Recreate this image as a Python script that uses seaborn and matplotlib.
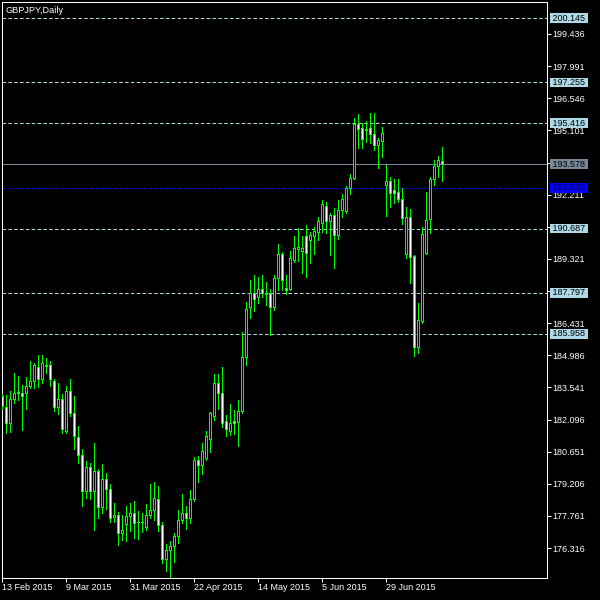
import numpy as np
import pandas as pd
import seaborn as sns
import matplotlib.pyplot as plt

# Daily GBPJPY candles (13 Feb 2015 onwards, trading days)
opens = [183.15, 182.66, 181.96, 183.04, 183.33, 183.31, 183.31, 183.61, 183.82, 184.48,
         183.94, 184.51, 184.57, 183.85, 182.64, 183.04, 181.57, 183.36, 182.41, 181.31,
         180.52, 178.87, 179.94, 178.88, 179.76, 178.16, 179.44, 178.99, 177.71, 177.82,
         177.01, 177.41, 177.76, 177.91, 177.49, 177.47, 177.26, 177.82, 178.05, 178.54,
         177.37, 175.84, 176.25, 176.43, 176.88, 177.60, 177.91, 177.69, 178.54, 180.27,
         180.07, 180.37, 181.24, 182.26, 183.72, 183.27, 182.03, 181.58, 182.02, 181.99,
         182.49, 184.89, 187.14, 187.77, 187.59, 187.95, 187.75, 187.77, 187.14, 188.44,
         189.52, 188.02, 187.96, 189.27, 189.76, 189.69, 190.35, 190.17, 190.36, 190.54,
         190.94, 191.71, 191.02, 191.29, 190.41, 191.52, 191.48, 192.49, 192.98, 195.39,
         195.19, 195.16, 195.19, 194.92, 194.45, 194.64, 192.64, 192.82, 192.42, 192.31,
         192.00, 189.56, 191.19, 189.45, 185.37, 186.54, 189.60, 191.10, 192.90, 193.48,
         193.72]
highs = [183.23, 183.22, 183.37, 184.17, 184.05, 183.67, 183.99, 184.72, 184.66, 185.02,
         184.99, 184.87, 184.73, 183.90, 183.72, 183.23, 183.61, 183.91, 183.14, 181.79,
         180.75, 180.22, 180.12, 181.04, 179.89, 180.08, 179.67, 179.22, 178.36, 177.94,
         177.79, 178.20, 178.34, 178.42, 177.97, 177.89, 178.28, 179.18, 179.27, 179.09,
         177.49, 176.52, 176.63, 177.00, 178.01, 178.73, 178.20, 178.92, 180.39, 180.45,
         181.04, 181.57, 182.44, 184.13, 184.13, 184.44, 182.29, 182.79, 182.52, 182.97,
         186.04, 187.39, 188.36, 188.59, 188.51, 188.59, 188.26, 187.96, 188.59, 189.98,
         189.64, 188.59, 189.68, 190.34, 190.69, 190.35, 190.84, 190.54, 190.76, 191.21,
         191.97, 191.89, 191.37, 191.63, 191.99, 192.24, 192.60, 193.13, 195.64, 195.84,
         195.45, 195.54, 195.87, 195.87, 194.74, 195.24, 193.54, 192.99, 192.90, 192.90,
         192.49, 191.65, 191.56, 189.49, 187.32, 190.74, 192.34, 193.00, 193.77, 193.95,
         194.37]
lows = [182.58, 181.49, 181.54, 182.83, 182.97, 181.61, 182.59, 183.52, 183.52, 183.56,
        183.76, 184.17, 183.61, 182.48, 182.33, 181.47, 181.47, 182.26, 180.79, 180.13,
        178.20, 178.56, 178.51, 177.15, 177.67, 177.89, 178.09, 177.49, 177.49, 176.47,
        176.67, 176.63, 177.08, 176.79, 176.71, 177.04, 177.12, 177.69, 177.60, 177.08,
        175.64, 175.28, 174.94, 175.69, 176.54, 177.44, 177.17, 177.44, 178.43, 179.29,
        179.63, 180.27, 180.64, 182.07, 182.56, 181.76, 181.36, 181.39, 181.43, 180.90,
        182.37, 184.54, 186.67, 186.98, 187.32, 187.61, 187.24, 185.92, 187.02, 187.92,
        187.92, 187.74, 187.92, 189.19, 189.23, 188.68, 188.51, 189.12, 189.54, 190.17,
        190.53, 190.47, 189.49, 188.90, 190.21, 191.21, 191.39, 192.24, 192.91, 194.32,
        194.32, 194.58, 194.55, 194.24, 193.41, 193.92, 191.25, 191.67, 191.85, 191.88,
        190.87, 189.37, 188.22, 184.96, 185.10, 186.45, 189.54, 190.50, 192.64, 193.02,
        192.82]
closes = [182.72, 181.96, 183.04, 183.31, 183.28, 183.16, 183.61, 183.82, 184.53, 183.94,
          184.66, 184.57, 183.90, 182.64, 183.04, 181.65, 183.36, 182.37, 181.35, 180.52,
          178.88, 179.94, 178.88, 179.78, 178.16, 179.44, 178.99, 177.69, 177.82, 177.01,
          177.15, 177.76, 177.91, 177.46, 177.47, 177.49, 177.82, 178.05, 178.59, 177.37,
          175.84, 176.25, 176.43, 176.88, 177.60, 177.91, 177.69, 178.54, 180.27, 180.07,
          180.70, 181.35, 182.37, 183.76, 183.31, 181.92, 181.65, 181.96, 181.92, 182.49,
          184.89, 187.09, 187.79, 187.54, 187.95, 187.79, 187.77, 187.14, 188.44, 189.52,
          188.37, 187.92, 189.34, 189.79, 189.84, 189.80, 189.59, 190.39, 190.57, 191.02,
          191.77, 191.02, 191.29, 190.41, 191.52, 192.00, 192.49, 192.98, 195.39, 195.18,
          194.73, 195.14, 194.92, 194.45, 194.65, 194.97, 192.82, 192.28, 192.30, 192.00,
          191.14, 191.19, 189.39, 185.37, 186.57, 190.44, 191.07, 192.90, 193.50, 193.77,
          193.578]

# horizontal levels drawn on the chart
dashed_levels = [200.145, 197.255, 195.416, 190.687, 187.797, 185.958]
blue_level = 192.526
bid_level = 193.578

# price scale; the ones sitting under a level label are not shown in the reference
price_ticks = [176.316, 177.761, 179.206, 180.651, 182.096, 183.541, 184.986, 186.431,
               187.876, 189.321, 190.766, 192.211, 193.656, 195.101, 196.546, 197.991, 199.436]
hidden_ticks = [187.876, 190.766, 193.656]
date_tick_every = 16

GREEN = '#00FF00'
LEVEL_BLUE = '#ADD8E6'
ONE_PX = 0.72  # points

sns.set_theme(style='dark', rc={'axes.facecolor': 'black', 'figure.facecolor': 'black',
                                'axes.grid': False, 'lines.scale_dashes': False})
plt.rcParams['font.family'] = ['Liberation Sans', 'DejaVu Sans']

df = pd.DataFrame({'open': opens, 'high': highs, 'low': lows, 'close': closes})
df['date'] = pd.bdate_range('2015-02-13', periods=len(df))
df['i'] = np.arange(len(df))
up = df['close'] >= df['open']

fig = plt.figure(figsize=(6, 6), dpi=100, facecolor='black')
ax = fig.add_axes([2 / 600, 22 / 600, 545 / 600, 576 / 600])
ax.set_facecolor('black')

# levels
for lvl in dashed_levels:
    ax.axhline(lvl, color=LEVEL_BLUE, lw=ONE_PX, ls=(0, (2.6, 1.6)), zorder=2)
ax.axhline(blue_level, color='#0000FF', lw=ONE_PX, ls=(0, (2.6, 1.6)), zorder=2)
ax.axhline(bid_level, color='#778899', lw=ONE_PX, zorder=2)

# candles: green wick, body with green outline, white inside = bear, black = bull
ax.vlines(df['i'], df['low'], df['high'], color=GREEN, lw=ONE_PX, zorder=3, antialiased=False)
body_low = df[['open', 'close']].min(axis=1)
body_h = (df['close'] - df['open']).abs()
ax.bar(df['i'], body_h, bottom=body_low, width=0.5,
       color=np.where(up, 'black', 'white'), edgecolor=GREEN, linewidth=ONE_PX,
       zorder=4, antialiased=False, snap=True)

# 4 px per bar, first bar sits on the left frame
ax.set_xlim(0.125, 136.375)
ax.set_ylim(174.97, 200.875)

# price axis on the right
ax.yaxis.tick_right()
ax.set_yticks(price_ticks)
ax.set_yticklabels(['' if v in hidden_ticks else f'{v:.3f}' for v in price_ticks])
ax.tick_params(axis='y', colors='white', labelcolor='white', labelsize=6.5,
               length=2.9, width=ONE_PX, pad=1.2, direction='out', right=True, left=False)

# date axis
xt = df['i'][::date_tick_every]
ax.set_xticks(xt)
ax.set_xticklabels([d.strftime('%-d %b %Y') for d in df['date'][::date_tick_every]])
for lab in ax.get_xticklabels():
    lab.set_horizontalalignment('left')
    lab.set_clip_on(False)
ax.tick_params(axis='x', colors='white', labelcolor='white', labelsize=6.5,
               length=2.9, width=ONE_PX, pad=0.8, direction='out', bottom=True)

for s in ax.spines.values():
    s.set_color('white')
    s.set_linewidth(ONE_PX)

# level price labels
def level_label(v, bg, fg='black'):
    ax.annotate(f' {v:.3f} ', xy=(1, v), xycoords=('axes fraction', 'data'),
                xytext=(3, 0), textcoords='offset pixels', ha='left', va='center',
                fontsize=6.5, color=fg, annotation_clip=False, zorder=6,
                bbox=dict(boxstyle='square,pad=0.05', fc=bg, ec='none'))

for lvl in dashed_levels:
    level_label(lvl, LEVEL_BLUE)
level_label(bid_level, '#778899')
level_label(blue_level, '#0000FF', fg='#000033')

ax.annotate('GBPJPY,Daily', xy=(0, 1), xycoords='axes fraction', xytext=(4, -4),
            textcoords='offset pixels', ha='left', va='top', fontsize=6.6, color='white')

fig.savefig('out.png', dpi=100, facecolor='black')
